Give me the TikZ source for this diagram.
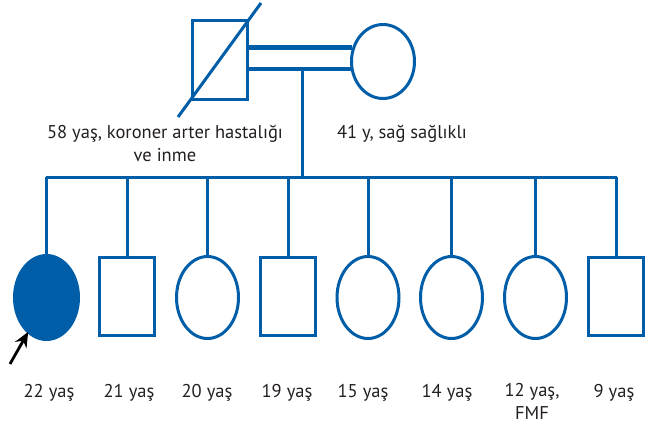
\documentclass[tikz,border=0pt]{standalone}
\usepackage{fontspec}
\setmainfont{PT Sans}
\usetikzlibrary{arrows.meta,shapes.geometric}
\definecolor{pblue}{RGB}{0,94,168}
\definecolor{ptext}{RGB}{35,31,32}
\tikzset{
  pline/.style={draw=pblue, line width=3pt},
  marriage/.style={draw=pblue, line width=4.5pt},
  male/.style={pline, rectangle, minimum width=55pt, minimum height=78pt, inner sep=0pt, outer sep=0pt},
  female/.style={pline, ellipse, minimum width=62pt, minimum height=82pt, inner sep=0pt, outer sep=0pt},
  lbl/.style={text=ptext, font=\fontsize{18.5}{23}\selectfont, inner sep=0pt, anchor=base, align=center},
}
\begin{document}
\begin{tikzpicture}[x=1pt, y=-1pt]
\useasboundingbox (0,0) rectangle (654,424);
% parents
\node[male, minimum height=79pt] (f) at (220,60) {};
\node[female, minimum width=63pt, minimum height=74pt] (m) at (383,61.5) {};
\coordinate (fdiagA) at (178,117);
\coordinate (fdiagB) at (261,3);
\draw[pline] (fdiagA) -- (fdiagB);
\draw[marriage] (f.east |- 0,47.5) -- (m.west |- 0,47.5);
\draw[marriage] (f.east |- 0,69) -- (m.west |- 0,69);
\coordinate (mdrop) at (302,69);
\coordinate (sibL) at (47,177);
\coordinate (sibR) at (615,177);
\draw[pline] (mdrop) -- (mdrop |- sibL);
\draw[pline, line cap=rect] (sibL) -- (sibR);
% children
\node[female, fill=pblue, minimum width=64pt, minimum height=84pt] (c1) at (46.5,297.5) {};
\node[male] (c2) at (127,296.5) {};
\node[female] (c3) at (207.5,297.5) {};
\node[male] (c4) at (288,296.5) {};
\node[female] (c5) at (368,297.5) {};
\node[female] (c6) at (451.5,297.5) {};
\node[female] (c7) at (535.5,297.5) {};
\node[male] (c8) at (616,296) {};
\foreach \c in {c1,c2,c3,c4,c5,c6,c7,c8}{
  \draw[pline] (\c.north) -- (\c.north |- sibL);
}
% proband arrow
\coordinate (arrS) at (10,364);
\draw[draw=black, line width=2.8pt, -{Stealth[length=15pt,width=13pt]}] (arrS) -- (c1.-118);
% labels
\node[lbl] (tf) at (165,161) {58 yaş, koroner arter hastalığı\\ve inme};
\node[lbl] (tm) at (402,138) {41 y, sağ sağlıklı};
\node[lbl] (t1) at (49,397) {22 yaş};
\node[lbl] (t2) at (129,397) {21 yaş};
\node[lbl] (t3) at (207,397) {20 yaş};
\node[lbl] (t4) at (287,397) {19 yaş};
\node[lbl] (t5) at (363,397) {15 yaş};
\node[lbl] (t6) at (447,397) {14 yaş};
\node[lbl] (t7) at (532,419) {12 yaş,\\FMF};
\node[lbl] (t8) at (614,397) {9 yaş};
\end{tikzpicture}
\end{document}
